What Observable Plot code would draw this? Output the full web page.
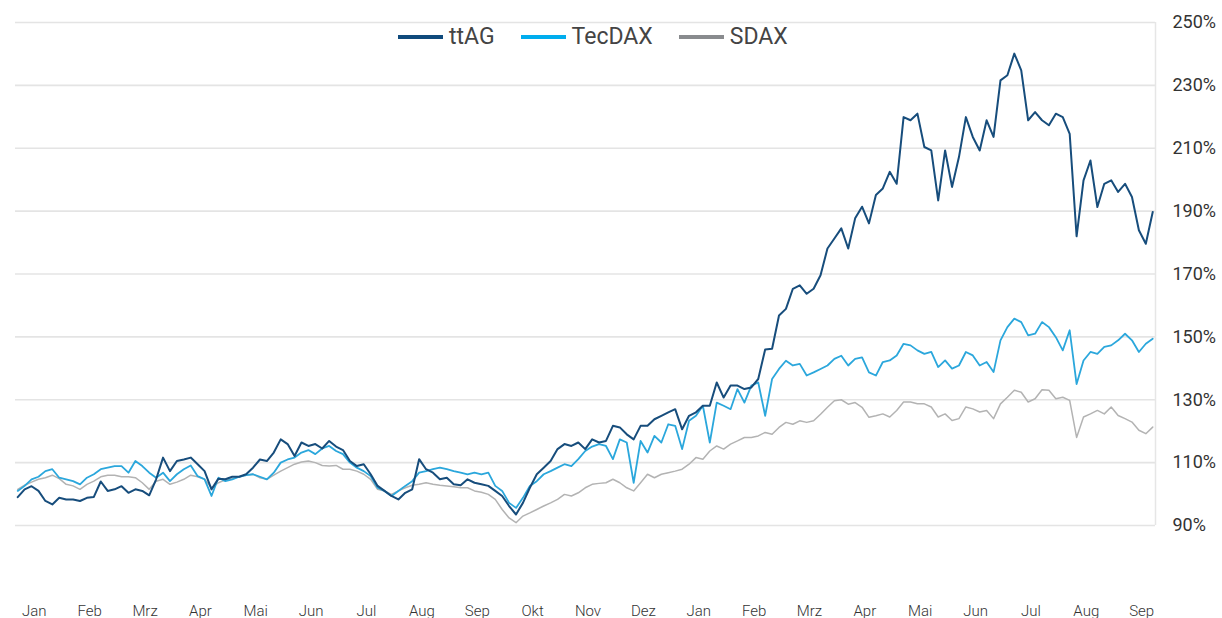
<!DOCTYPE html>
<html>
<head>
<meta charset="utf-8">
<script src="https://cdn.jsdelivr.net/npm/d3@7"></script>
<script src="https://cdn.jsdelivr.net/npm/@observablehq/plot@0.6"></script>
<style>
  html, body { margin: 0; padding: 0; background: #fff; }
  #wrap { position: relative; width: 1222px; height: 618px; font-family: Roboto, "Open Sans", sans-serif; }
  #legend { position: absolute; left: 398px; top: 23px; display: flex; align-items: center; font-size: 23px; color: #444; line-height: 28px; }
  .item { display: flex; align-items: center; margin-right: 26px; }
  .sw { width: 45px; height: 4px; margin-right: 6px; }
</style>
</head>
<body>
<div id="wrap"><div id="legend"></div></div>
<script>
const months = ["Jan","Feb","Mrz","Apr","Mai","Jun","Jul","Aug","Sep","Okt","Nov","Dez","Jan","Feb","Mrz","Apr","Mai","Jun","Jul","Aug","Sep"];
const yTicks = [90,110,130,150,170,190,210,230,250];
const seriesNames = ["ttAG","TecDAX","SDAX"];
const lineColors = ["#174d7c","#2ba7dc","#b3b3b3"];
const legendColors = ["#0f4a7c","#00adee","#898b8e"];
const step = 0.125; // months between samples

const ttAG = [99,101.5,102.5,101,97.8,96.7,98.8,98.3,98.3,97.8,98.8,99.1,104,101,101.5,102.5,100.4,101.5,101,99.6,
104.7,111.6,107.3,110.5,111,111.6,109.5,107.3,101.5,104.9,104.7,105.5,105.5,106.3,108.4,111,110.5,113.2,117.4,115.9,
112.1,116.4,115.3,115.9,114.5,116.9,115.1,114,110.5,108.9,109.5,106.3,102.6,101,99.4,98.3,100.4,101.5,111.1,107.9,
106.8,104.7,105.2,103.1,102.8,104.7,103.6,103.1,102.6,101,99.4,96.2,93.5,97.2,102,106.3,108.4,110.5,114.3,115.9,
115.3,116.4,114.3,117.4,116.4,116.9,121.7,121.2,119,117.4,121.7,121.7,123.8,124.9,126,127,120.6,124.9,126,128.1,
128.1,135.5,130.7,134.5,134.5,133.4,133.9,136.6,146,146.2,156.8,158.9,165.3,166.4,163.7,165.3,169.6,178.1,181.3,184.5,
178.1,187.7,191.4,186.1,195.1,197.2,202.5,198.7,219.9,218.9,221,210.4,209.3,193.4,209.3,197.7,207.2,219.9,213.6,209.3,
218.9,213.6,231.6,233.2,240.1,234.8,218.9,221.5,218.9,217.3,221,219.9,214.6,182,199.8,206.1,191.3,198.7,199.8,196.1,
198.7,194.5,183.9,179.6,189.7];

const tecDAX = [101,102.6,104.7,105.5,107.3,107.9,105.2,104.7,104.1,103.1,105.2,106.3,107.9,108.4,108.9,108.9,106.8,110.5,108.9,106.8,
105.2,106.8,104.1,106.3,107.9,109.1,105.7,104.7,99.4,105.2,104.1,104.7,105.5,106,106.3,105.5,104.7,106.8,110,111,
111.6,113.2,114,112.7,114.5,115.3,113.7,112.7,110,108.4,107.3,105.7,102,101,99.4,101,102.6,104.1,106.8,107.3,
107.9,108.4,107.9,107.3,106.8,106.3,106.8,106.3,106.8,102.6,101,97.2,95.6,98.8,102.6,104.1,106.3,107.3,108.4,109.5,
108.9,111.1,113.7,115.1,115.9,115.3,111.1,117.4,116.4,103.6,116.9,113.2,118.5,116.4,122.2,121.7,114.3,123.3,124.9,128.1,
116.4,129.1,128.1,127,133.4,129.1,134.5,135.5,124.9,136.6,139.8,142.4,140.9,141.4,137.7,138.7,139.8,140.9,143,144,
140.9,143,143.5,138.7,137.7,142,142.5,144.1,147.8,147.3,145.7,144.6,145.2,140.4,142.5,139.9,140.9,145.2,144.1,140.9,
142,138.8,148.9,153.1,155.8,154.7,150.5,151,154.7,153.1,149.9,145.7,152.1,135,142.5,145.2,144.6,146.8,147.3,148.9,
151,148.9,145.2,147.8,149.4];

const sDAX = [101.5,102.8,103.8,104.7,105.2,106,104.9,103.1,102.6,101.5,103.1,104.1,105.5,106,106,105.5,105.5,105.2,103.6,101.5,
104.1,104.7,103.1,103.8,104.7,106,105.5,104.7,102,103.6,104.5,104.9,105.5,106,106.3,105.2,104.7,106,107.3,108.4,
109.5,110.2,110.5,110,109.1,108.9,109.1,107.9,107.9,107.3,106.3,104.7,101.5,101,99.9,101,102,102.8,103.1,103.6,
103.1,102.8,102.6,102.3,102,102,101,100.6,99.9,98.3,95.1,92.4,90.9,93,94,95.1,96.2,97.2,98.3,99.9,
99.4,100.4,102,103.1,103.4,103.6,104.7,103.6,102,101,103.6,106.3,105.2,106.3,106.8,107.3,107.9,109.5,111.6,111.1,
113.7,115.3,114.3,115.9,116.9,118,118,118.5,119.6,119,121.2,122.8,122.2,123.3,122.8,123.3,125.4,127.6,129.7,130,
128.6,129.1,127.6,124.4,124.9,125.5,124.5,126.6,129.3,129.3,128.7,128.7,127.7,124.5,125.5,123.4,124,127.7,127.1,126.1,
126.6,124,128.7,130.8,133,132.4,129.3,130.3,133.2,133,130.3,130.8,129.8,118,124.5,125.5,126.6,125.5,127.7,125,
124,122.9,120.3,119.2,121.3];

const seriesValues = [ttAG, tecDAX, sDAX];
const toRows = (vals) => vals.map((v, i) => ({t: i * step, v}));
const widths = [2, 1.8, 1.5];

const lineMarks = [2, 1, 0].map(s =>
  Plot.line(toRows(seriesValues[s]), {x: "t", y: "v", stroke: lineColors[s], strokeWidth: widths[s], strokeLinejoin: "round"})
);

const chart = Plot.plot({
  width: 1222,
  height: 618,
  marginLeft: 15,
  marginRight: 67,
  marginTop: 22,
  marginBottom: 93,
  style: {fontFamily: "Roboto, sans-serif", background: "transparent", overflow: "visible"},
  x: {domain: [-0.04, 20.55], axis: null},
  y: {domain: [90, 250], axis: null},
  marks: [
    Plot.gridY(yTicks, {stroke: "#e4e4e4", strokeOpacity: 1, strokeWidth: 1.6}),
    Plot.ruleX([20.55], {stroke: "#e6e6e6", strokeWidth: 1.5}),
    ...lineMarks,
    Plot.axisY(yTicks, {anchor: "right", tickSize: 0, tickPadding: 17, tickFormat: d => d + "%", fontSize: 18, fill: "#333", label: null}),
    Plot.axisX(months.map((m, i) => i + 0.3), {anchor: "bottom", tickSize: 0, tickPadding: 80, tickFormat: d => months[Math.round(d - 0.3)], fontSize: 15, fontWeight: 300, fill: "#333", label: null})
  ]
});

const wrap = document.getElementById("wrap");
wrap.insertBefore(chart, wrap.firstChild);

const legend = document.getElementById("legend");
seriesNames.forEach((name, i) => {
  const item = document.createElement("div");
  item.className = "item";
  const sw = document.createElement("div");
  sw.className = "sw";
  sw.style.background = legendColors[i];
  const label = document.createElement("span");
  label.textContent = name;
  item.appendChild(sw);
  item.appendChild(label);
  legend.appendChild(item);
});
</script>
</body>
</html>
